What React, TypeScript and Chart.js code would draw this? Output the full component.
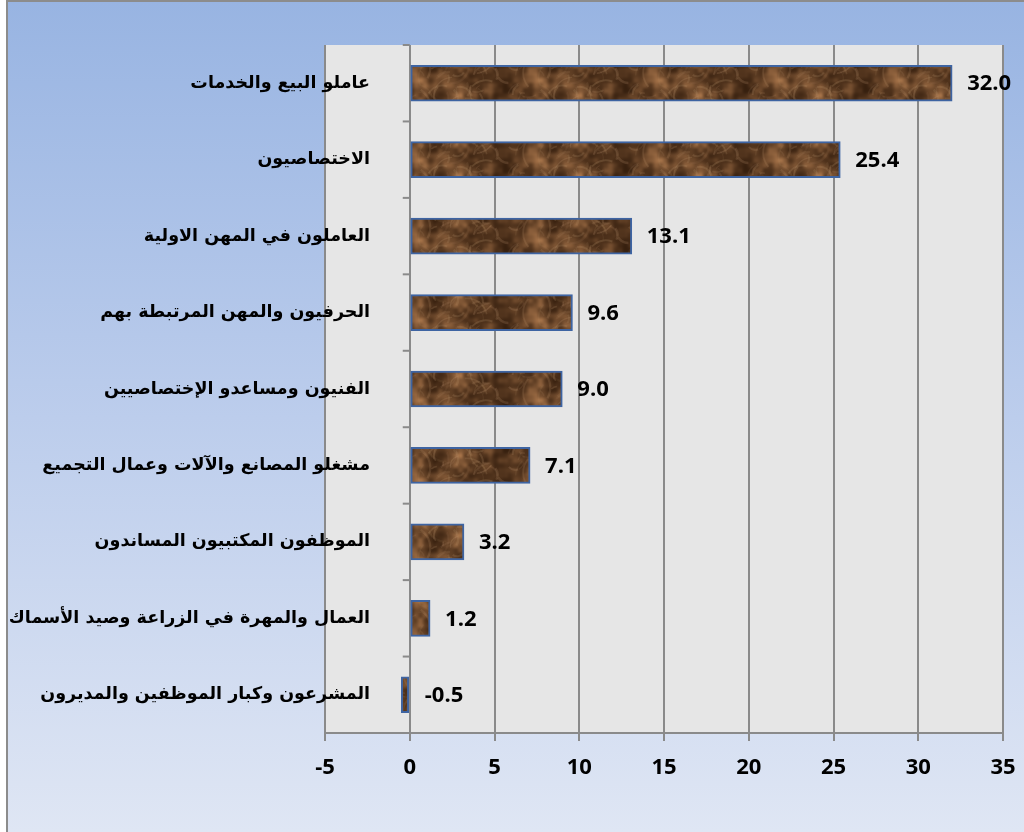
import React, { useEffect, useRef } from 'react';
import { Chart, registerables } from 'chart.js';

Chart.register(...registerables);

const categories: string[] = [
  'عاملو البيع والخدمات',
  'الاختصاصيون',
  'العاملون في المهن الاولية',
  'الحرفيون والمهن المرتبطة بهم',
  'الفنيون ومساعدو الإختصاصيين',
  'مشغلو المصانع والآلات وعمال التجميع',
  'الموظفون المكتبيون المساندون',
  'العمال والمهرة في الزراعة وصيد الأسماك',
  'المشرعون وكبار الموظفين والمديرون',
];

const values: number[] = [32.0, 25.4, 13.1, 9.6, 9.0, 7.1, 3.2, 1.2, -0.5];

const axisMin = -5;
const axisMax = 35;
const axisStep = 5;

const GRID = '#8a8a8a';
const NUM_FONT = '"Open Sans", Roboto, "Liberation Sans", sans-serif';

function hash(ix: number, iy: number, seed: number) {
  let h = (ix * 374761393 + iy * 668265263 + seed * 144665) | 0;
  h = Math.imul(h ^ (h >>> 13), 1274126177);
  h = h ^ (h >>> 16);
  return ((h >>> 0) % 10000) / 10000;
}

function valueNoise(x: number, y: number, cell: number, W: number, H: number, seed: number) {
  const cx = Math.round(W / cell);
  const cy = Math.round(H / cell);
  const gx = x / cell;
  const gy = y / cell;
  const ix = Math.floor(gx);
  const iy = Math.floor(gy);
  const fx = gx - ix;
  const fy = gy - iy;
  const sx = fx * fx * (3 - 2 * fx);
  const sy = fy * fy * (3 - 2 * fy);
  const wx = (v: number) => ((v % cx) + cx) % cx;
  const wy = (v: number) => ((v % cy) + cy) % cy;
  const a = hash(wx(ix), wy(iy), seed);
  const b = hash(wx(ix + 1), wy(iy), seed);
  const c = hash(wx(ix), wy(iy + 1), seed);
  const d = hash(wx(ix + 1), wy(iy + 1), seed);
  const top = a + (b - a) * sx;
  const bot = c + (d - c) * sx;
  return top + (bot - top) * sy;
}

function makeWood(ctx: CanvasRenderingContext2D): CanvasPattern | string {
  const W = 120;
  const H = 40;
  const c = document.createElement('canvas');
  c.width = W;
  c.height = H;
  const g = c.getContext('2d');
  if (!g) return '#5a3a22';
  const img = g.createImageData(W, H);
  for (let y = 0; y < H; y++) {
    for (let x = 0; x < W; x++) {
      let n =
        0.45 * valueNoise(x, y, 20, W, H, 1) +
        0.3 * valueNoise(x, y, 10, W, H, 2) +
        0.25 * valueNoise(x, y, 5, W, H, 3);
      n = Math.max(0, Math.min(1, (n - 0.22) * 1.6));
      const t = Math.pow(n, 1.3);
      const i = (y * W + x) * 4;
      img.data[i] = 55 + t * 115;
      img.data[i + 1] = 32 + t * 86;
      img.data[i + 2] = 15 + t * 60;
      img.data[i + 3] = 255;
    }
  }
  g.putImageData(img, 0, 0);
  let s = 424242;
  const rnd = () => {
    s = (s * 1103515245 + 12345) & 0x7fffffff;
    return s / 0x7fffffff;
  };
  for (let i = 0; i < 50; i++) {
    const x = rnd() * W;
    const y = rnd() * H;
    const r = 6 + rnd() * 16;
    const a0 = rnd() * Math.PI * 2;
    const len = 0.5 + rnd() * 1.2;
    g.strokeStyle = `rgba(195,155,115,${0.08 + rnd() * 0.14})`;
    g.lineWidth = 1 + rnd() * 1.5;
    for (const dx of [-W, 0, W]) {
      for (const dy of [-H, 0, H]) {
        g.beginPath();
        g.arc(x + dx, y + dy, r, a0, a0 + len);
        g.stroke();
      }
    }
  }
  const p = ctx.createPattern(c, 'repeat');
  return p || '#5a3a22';
}

const decoPlugin = {
  id: 'deco',
  beforeDraw(chart: any) {
    const { ctx, width, height, chartArea } = chart;
    ctx.save();
    const grad = ctx.createLinearGradient(0, 2, 0, height);
    grad.addColorStop(0, '#98b4e2');
    grad.addColorStop(0.5, '#bccdec');
    grad.addColorStop(1, '#dfe6f4');
    ctx.fillStyle = grad;
    ctx.fillRect(7, 1, width - 7, height - 1);
    ctx.strokeStyle = '#8c8c8c';
    ctx.lineWidth = 2;
    ctx.beginPath();
    ctx.moveTo(7, height);
    ctx.lineTo(7, 1);
    ctx.lineTo(width, 1);
    ctx.stroke();
    ctx.fillStyle = '#e6e6e6';
    ctx.fillRect(chartArea.left, chartArea.top, chartArea.right - chartArea.left, chartArea.bottom - chartArea.top);
    ctx.restore();
  },
  afterDatasetsDraw(chart: any) {
    const { ctx, chartArea, scales } = chart;
    const x = scales.x;
    const y = scales.y;
    const x0 = x.getPixelForValue(0);
    const n = categories.length;
    const band = (chartArea.bottom - chartArea.top) / n;
    ctx.save();
    ctx.strokeStyle = GRID;
    ctx.lineWidth = 2;
    for (let i = 0; i <= n; i++) {
      const yy = chartArea.top + i * band;
      ctx.beginPath();
      ctx.moveTo(x0 - 7, yy);
      ctx.lineTo(x0, yy);
      ctx.stroke();
    }
    ctx.fillStyle = '#000';
    ctx.font = 'bold 17.5px "DejaVu Sans", sans-serif';
    ctx.textAlign = 'right';
    ctx.textBaseline = 'middle';
    (ctx as any).direction = 'rtl';
    categories.forEach((c, i) => {
      const yy = y.getPixelForValue(i);
      ctx.fillText(c, chartArea.left + 45, yy);
    });
    (ctx as any).direction = 'ltr';
    ctx.textAlign = 'left';
    ctx.font = `bold 22px ${NUM_FONT}`;
    values.forEach((v, i) => {
      const yy = y.getPixelForValue(i);
      const xx = x.getPixelForValue(Math.max(v, 0)) + 15;
      ctx.fillText(v.toFixed(1), xx, yy + 1);
    });
    ctx.restore();
  },
};

export default function App() {
  const ref = useRef<HTMLCanvasElement | null>(null);

  useEffect(() => {
    document.body.style.margin = '0';
    const canvas = ref.current;
    if (!canvas) return;
    const ctx = canvas.getContext('2d');
    if (!ctx) return;
    const wood = makeWood(ctx);
    const chart = new Chart(canvas, {
      type: 'bar',
      data: {
        labels: categories,
        datasets: [
          {
            data: values,
            backgroundColor: wood as any,
            borderColor: '#3e64a2',
            borderWidth: 2,
            borderSkipped: false,
            barThickness: 36,
          },
        ],
      },
      options: {
        indexAxis: 'y',
        responsive: false,
        animation: false,
        devicePixelRatio: 1,
        layout: { padding: { left: 325, right: 21, top: 45, bottom: 0 } },
        plugins: {
          legend: { display: false },
          tooltip: { enabled: false },
        },
        scales: {
          x: {
            type: 'linear',
            min: axisMin,
            max: axisMax,
            afterFit: (s: any) => {
              s.height = 99;
              s.paddingLeft = 0;
              s.paddingRight = 0;
            },
            ticks: {
              stepSize: axisStep,
              color: '#000',
              padding: 14,
              font: { family: NUM_FONT, size: 22, weight: 'bold' },
            },
            grid: {
              color: GRID,
              lineWidth: 2,
              drawTicks: true,
              tickLength: 8,
            },
            border: { display: true, color: GRID, width: 2 },
          },
          y: {
            type: 'category',
            display: false,
          },
        },
      },
      plugins: [decoPlugin],
    });
    return () => chart.destroy();
  }, []);

  return (
    <div style={{ width: 1024, height: 832, position: 'relative' }}>
      <canvas ref={ref} width={1024} height={832} style={{ display: 'block' }} />
    </div>
  );
}
